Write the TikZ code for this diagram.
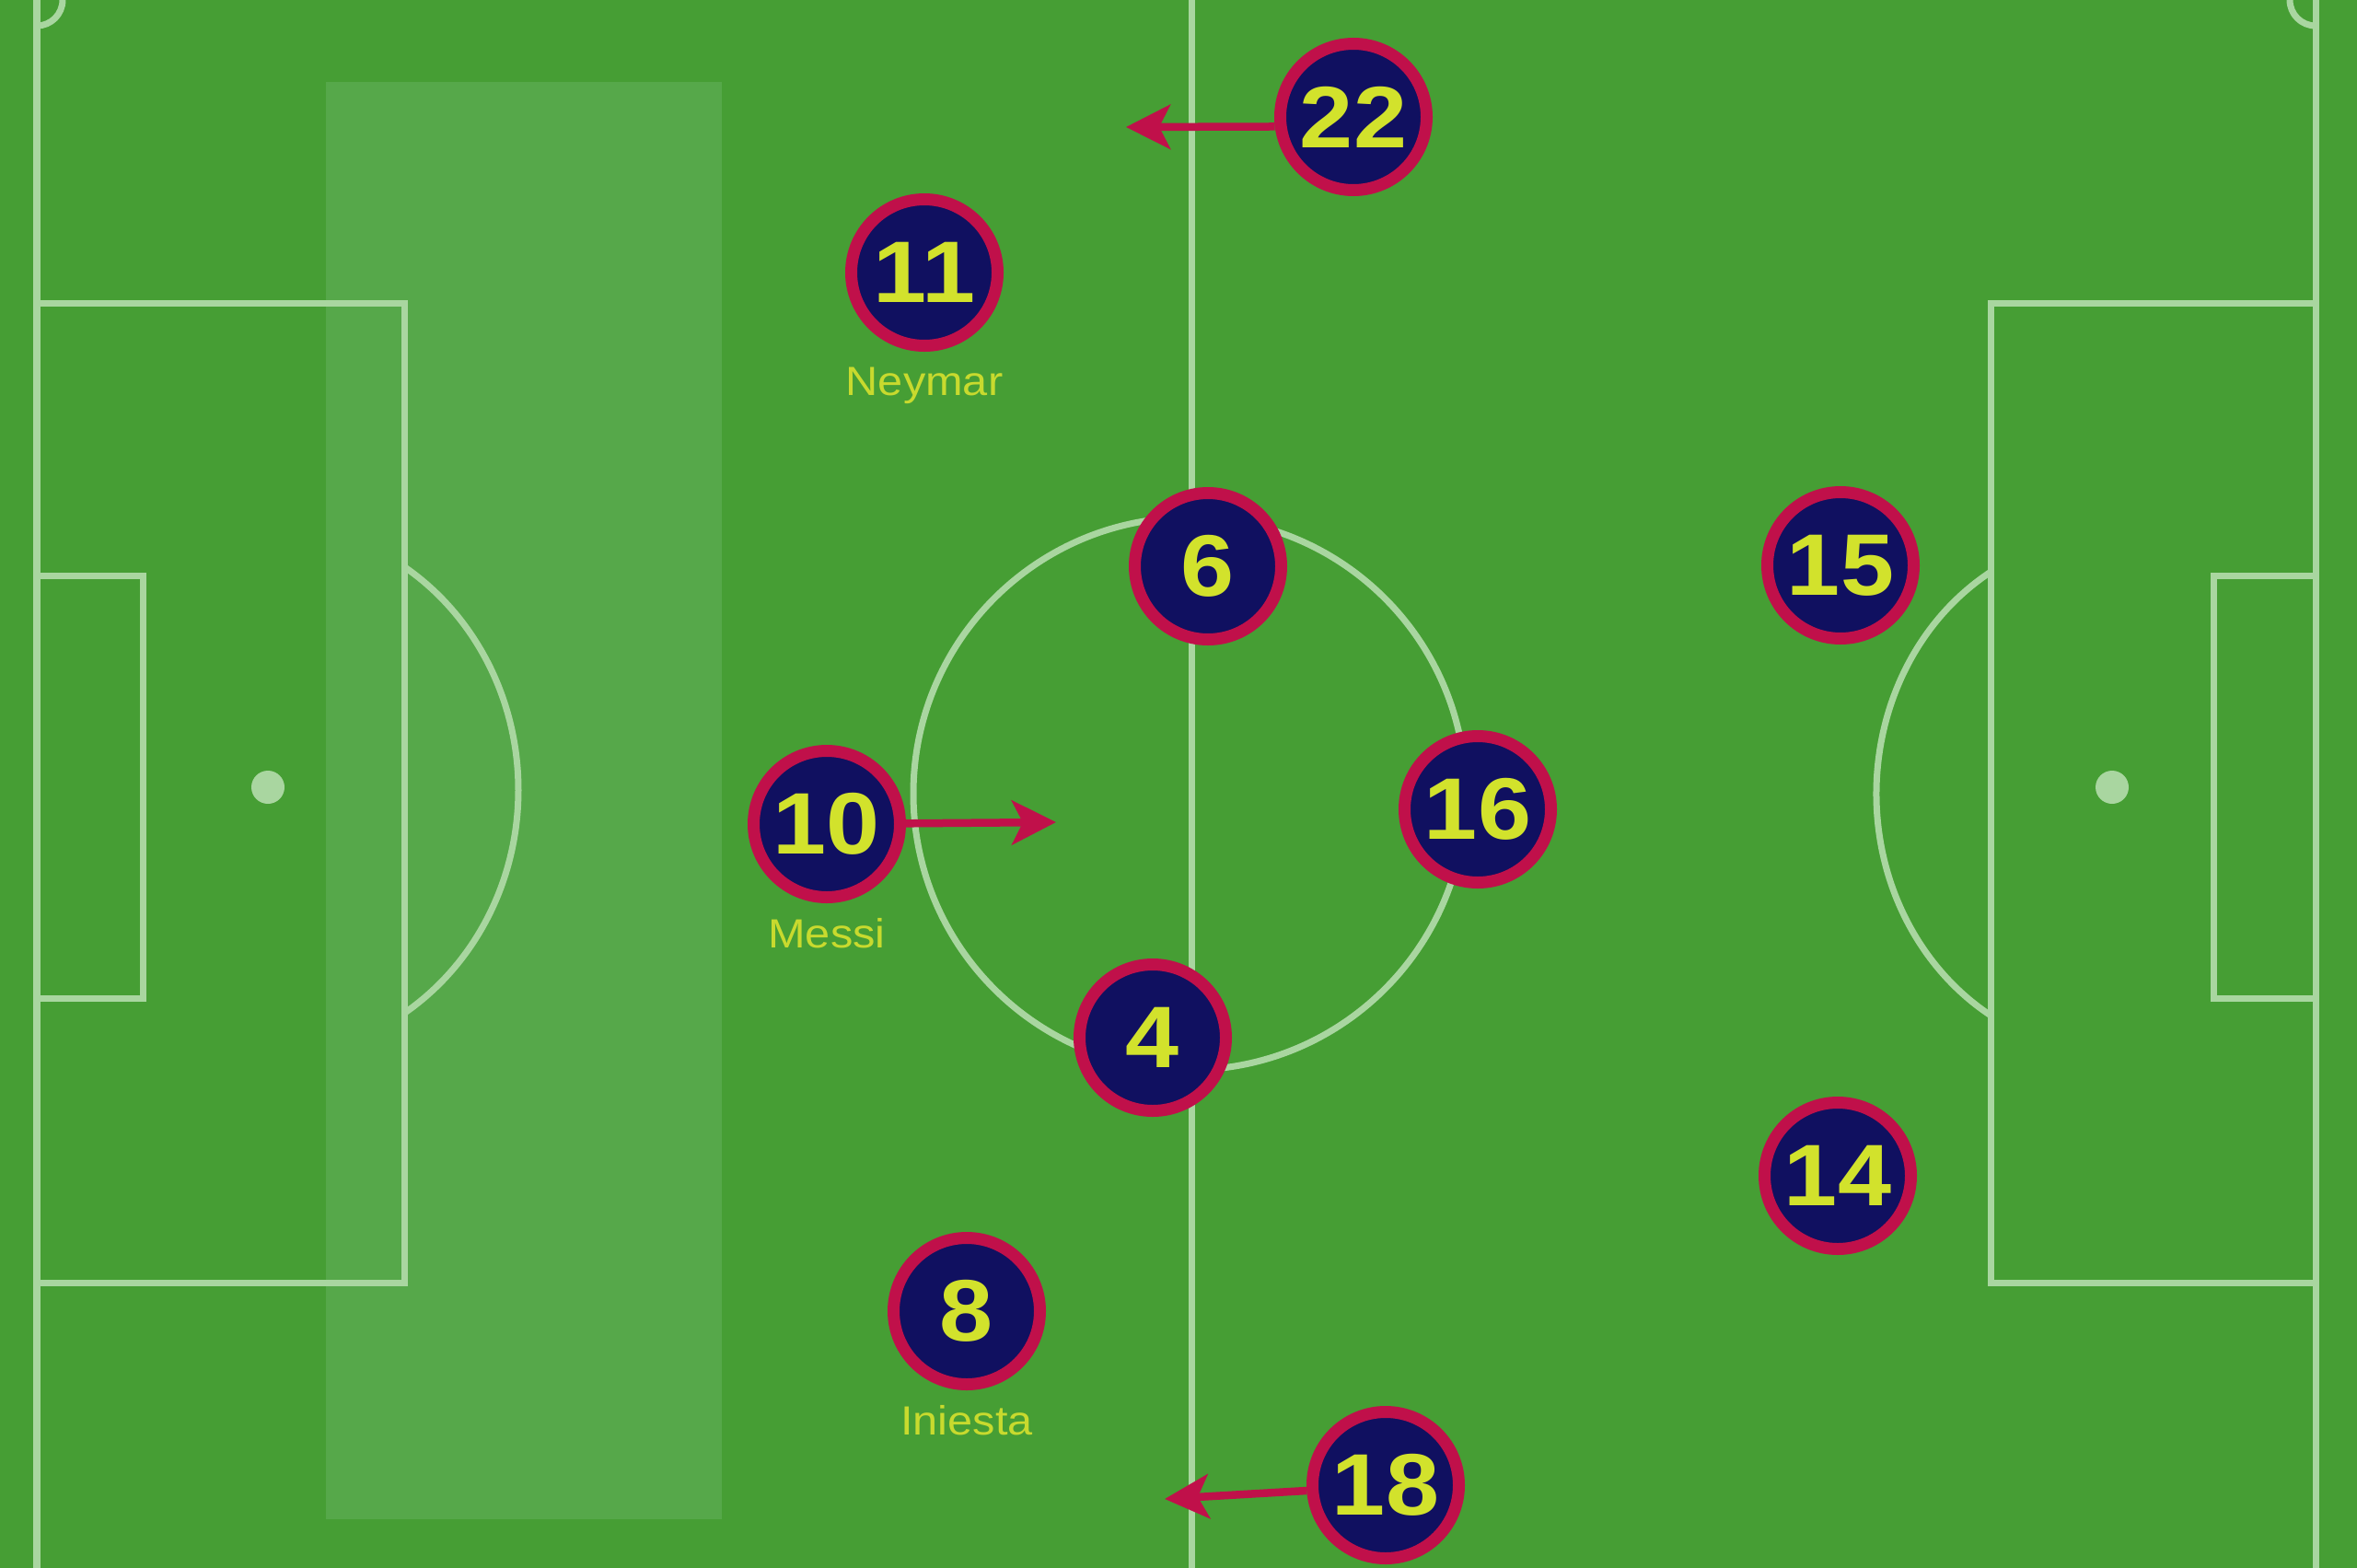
\documentclass[tikz,border=0pt]{standalone}
\usepackage{fontspec}
\setmainfont{Liberation Sans}
\newfontfamily\shirtfont[FakeStretch=1.1]{Liberation Sans}
\usetikzlibrary{positioning}
\usetikzlibrary{arrows.meta}

\definecolor{grass}{RGB}{70,158,52}
\definecolor{grasslight}{RGB}{86,168,74}
\definecolor{chalkcol}{RGB}{169,214,160}
\definecolor{navy}{RGB}{16,16,96}
\definecolor{crimson}{RGB}{192,16,74}
\definecolor{shirtnum}{RGB}{210,226,44}
\definecolor{tagcol}{RGB}{200,218,46}

\begin{document}
\begin{tikzpicture}[
    chalk/.style={draw=chalkcol, line width=0.07cm},
    player/.style={circle, draw=crimson, fill=navy, line width=0.13cm, minimum size=1.59cm,
        inner sep=0pt, text=shirtnum, font=\shirtfont\fontsize{27}{30}\selectfont\bfseries},
    tag/.style={inner sep=0pt, text=tagcol, font=\shirtfont\fontsize{12.6}{14}\selectfont},
    run/.style={draw=crimson, line width=0.085cm, -{Stealth[length=0.48cm, width=0.48cm, inset=0.12cm]}}
]

    \useasboundingbox (0,0) rectangle (25.6,-17.03);
    \fill[grass] (0,0) rectangle (25.6,-17.03);
    \fill[grasslight] (3.54,-0.89) rectangle (7.84,-16.50);

    \draw[chalk] (0.40,0) -- (0.40,-17.03);
    \draw[chalk] (25.15,0) -- (25.15,-17.03);
    \draw[chalk] (12.94,0) -- (12.94,-17.03);
    \draw[chalk] (0.40,-3.29) rectangle (4.39,-13.93);
    \draw[chalk] (0.40,-6.25) rectangle (1.55,-10.84);
    \draw[chalk] (25.15,-3.29) rectangle (21.62,-13.93);
    \draw[chalk] (25.15,-6.25) rectangle (24.04,-10.84);
    \draw[chalk] (12.92,-8.62) circle (3.0);
    \draw[chalk] (0.40,-0.28) arc[start angle=270, end angle=360, radius=0.28];
    \draw[chalk] (24.87,0) arc[start angle=180, end angle=270, radius=0.28];
    \draw[chalk] (2.91,-8.58) ++(57:2.72 and 2.89)
        arc[start angle=57, end angle=-57, x radius=2.72, y radius=2.89];
    \draw[chalk] (22.94,-8.62) ++(121:2.56 and 2.81)
        arc[start angle=121, end angle=239, x radius=2.56, y radius=2.81];
    \fill[chalkcol] (2.91,-8.55) circle (0.18);
    \fill[chalkcol] (22.94,-8.55) circle (0.18);

    \coordinate (to22) at (12.23,-1.38);
    \coordinate (to10) at (11.47,-8.93);
    \coordinate (to18) at (12.65,-16.28);

    \node[player] (p22) at (14.70,-1.27) {22};
    \node[player] (p11) at (10.04,-2.96) {11};
    \node[player] (p6) at (13.12,-6.15) {6};
    \node[player] (p15) at (19.99,-6.14) {15};
    \node[player] (p10) at (8.98,-8.95) {10};
    \node[player] (p16) at (16.05,-8.79) {16};
    \node[player] (p4) at (12.52,-11.27) {4};
    \node[player] (p14) at (19.96,-12.77) {14};
    \node[player] (p8) at (10.50,-14.24) {8};
    \node[player] (p18) at (15.05,-16.13) {18};

    \node[tag, below=0.16cm of p11] (n11) {Neymar};
    \node[tag, below=0.16cm of p10] (n10) {Messi};
    \node[tag, below=0.16cm of p8] (n8) {Iniesta};

    \draw[run] (p22.187) -- (to22);
    \draw[run] (p10) -- (to10);
    \draw[run] (p18.184) -- (to18);
\end{tikzpicture}
\end{document}
